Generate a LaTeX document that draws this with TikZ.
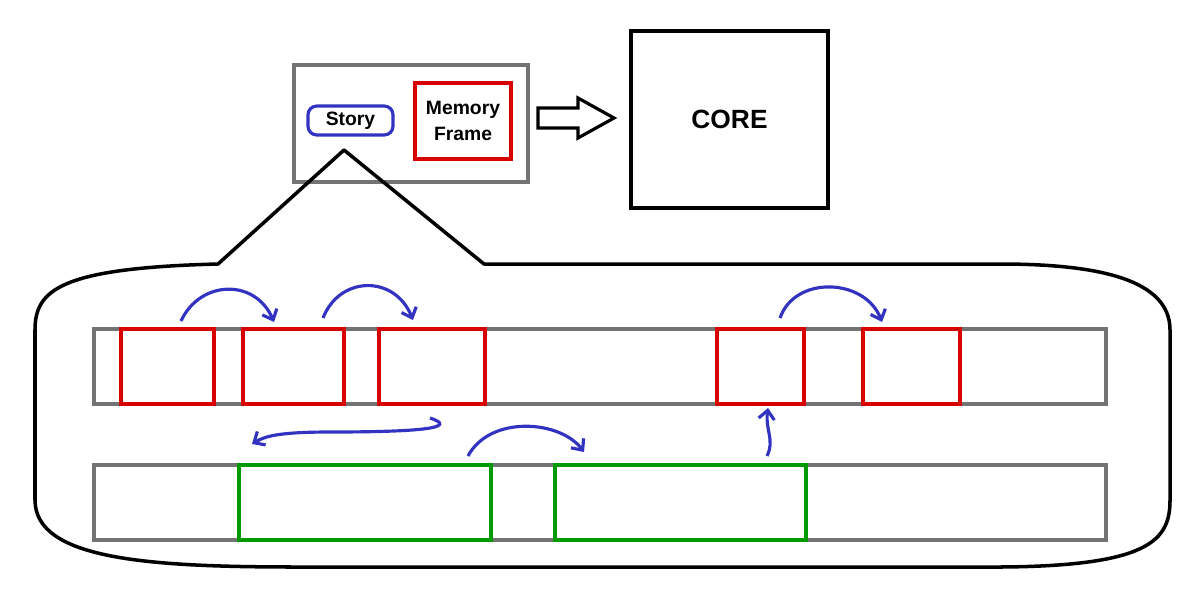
\documentclass[tikz,border=0pt]{standalone}
\usepackage{fontspec}
\setmainfont{Liberation Sans}
\usetikzlibrary{arrows.meta}
\begin{document}
\begin{tikzpicture}[x=0.02cm,y=-0.02cm,
  box/.style={draw,line width=1.8pt,inner sep=0pt},
  gray box/.style={box,draw=gray!90!black},
  red box/.style={box,draw=red!85!black},
  green box/.style={box,draw=green!60!black},
  hop/.style={draw=blue!70!black!80,line width=1.8pt,-{Straight Barb[length=5pt,width=9pt]}},
  lbl/.style={font=\bfseries}]
\useasboundingbox (0,0) rectangle (1195,613);
% top group
\node[gray box,minimum width=234*0.02cm,minimum height=117*0.02cm] (grp) at (411,123.5) {};
% callout bubble
\draw[line width=2pt,line join=round] (218,264) .. controls (60,268) and (35,290) .. (35,330) -- (35,500)
  .. controls (35,560) and (150,567) .. (300,567) -- (1000,567)
  .. controls (1150,566) and (1170,540) .. (1170,500) -- (1170,330)
  .. controls (1170,280) and (1100,264) .. (1000,264) -- (484,264) -- (344,150) -- cycle;
\node[box,draw=blue!70!black!80,rounded corners=5pt,minimum width=85*0.02cm,minimum height=29*0.02cm,font=\bfseries\fontsize{11}{12}\selectfont] (story) at (350.5,120.5) {Story};
\node[red box,minimum width=96*0.02cm,minimum height=76*0.02cm,align=center,font=\bfseries\fontsize{11}{15}\selectfont] (mf) at (463,121) {Memory\\Frame};
\node[box,draw=black,minimum width=197*0.02cm,minimum height=177*0.02cm,font=\bfseries\fontsize{15}{16}\selectfont] (core) at (729.5,119.5) {CORE};
\draw[line width=1.8pt,line join=miter] (538,108) -- (578,108) -- (578,98) -- (614,118) -- (578,138) -- (578,128) -- (538,128) -- cycle;
% strips
\node[gray box,minimum width=1012*0.02cm,minimum height=75*0.02cm] (s1) at (600,366.5) {};
\node[gray box,minimum width=1012*0.02cm,minimum height=75*0.02cm] (s2) at (600,502.5) {};
\node[red box,minimum width=93*0.02cm,minimum height=75*0.02cm] (r1) at (167.5,366.5) {};
\node[red box,minimum width=101*0.02cm,minimum height=75*0.02cm] (r2) at (293.5,366.5) {};
\node[red box,minimum width=106*0.02cm,minimum height=75*0.02cm] (r3) at (432,366.5) {};
\node[red box,minimum width=87*0.02cm,minimum height=75*0.02cm] (r4) at (760.5,366.5) {};
\node[red box,minimum width=97*0.02cm,minimum height=75*0.02cm] (r5) at (911.5,366.5) {};
\node[green box,minimum width=252*0.02cm,minimum height=75*0.02cm] (g1) at (365,502.5) {};
\node[green box,minimum width=251*0.02cm,minimum height=75*0.02cm] (g2) at (680.5,502.5) {};
% hops
\coordinate (h1a) at (181,321); \coordinate (h1b) at (274,322);
\draw[hop] (h1a) .. controls (200,280) and (255,278) .. (h1b);
\coordinate (h2a) at (323,318); \coordinate (h2b) at (413,320);
\draw[hop] (h2a) .. controls (340,275) and (395,275) .. (h2b);
\coordinate (h3a) at (780,318); \coordinate (h3b) at (882,322);
\draw[hop] (h3a) .. controls (795,275) and (865,278) .. (h3b);
\coordinate (h4a) at (468,456); \coordinate (h4b) at (584,452);
\draw[hop] (h4a) .. controls (490,415) and (560,420) .. (h4b);
\coordinate (h5a) at (430,418); \coordinate (h5b) at (252,444);
\draw[hop] (h5a) .. controls (460,428) and (420,432) .. (330,432) .. controls (280,432) and (265,436) .. (h5b);
\coordinate (h6a) at (767,456); \coordinate (h6b) at (768,408);
\draw[hop] (h6a) .. controls (775,440) and (765,430) .. (h6b);
\end{tikzpicture}
\end{document}
